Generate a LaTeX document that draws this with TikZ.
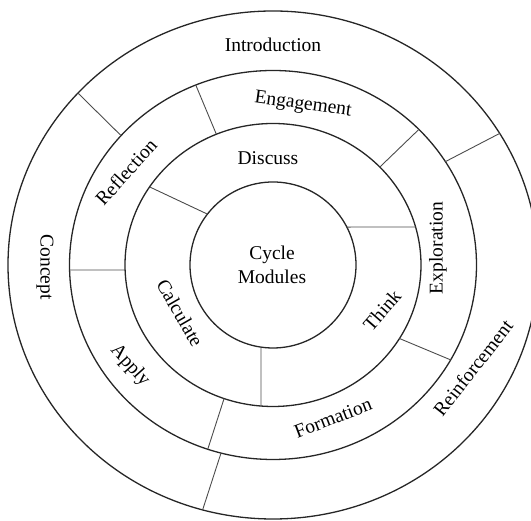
\documentclass[tikz,border=0pt]{standalone}
\usepackage{fontspec}
\setmainfont{Liberation Serif}
\usetikzlibrary{calc}
\begin{document}
\begin{tikzpicture}[x=1pt,y=1pt,
  ring/.style={draw=black!85,line width=1.3pt},
  divider/.style={draw=black!70,line width=0.9pt},
  lbl/.style={font=\fontsize{19.5}{24}\selectfont,inner sep=0pt,align=center}]
\useasboundingbox (0,0) rectangle (531,521);
\coordinate (C) at (273,256);
% rings
\draw[ring] (C) circle [radius=83pt];
\draw[ring] (C) ellipse [x radius=148pt, y radius=141.5pt];
\draw[ring] (C) ellipse [x radius=203.5pt, y radius=194.5pt];
\draw[ring] (C) ellipse [x radius=265pt, y radius=254pt];
% inner ring dividers
\draw[divider] ($(C)+(142.2:83pt)$) -- ($(C)+(146.5:148pt and 141.5pt)$);
\draw[divider] ($(C)+(27.2:83pt)$) -- ($(C)+(15.58:148pt and 141.5pt)$);
\draw[divider] ($(C)+(-98.3:83pt)$) -- ($(C)+(-94.65:148pt and 141.5pt)$);
% middle ring dividers
\draw[divider] ($(C)+(112.5:148pt and 141.5pt)$) -- ($(C)+(112.3:203.5pt and 194.5pt)$);
\draw[divider] ($(C)+(43.8:148pt and 141.5pt)$) -- ($(C)+(44.2:203.5pt and 194.5pt)$);
\draw[divider] ($(C)+(-31.3:148pt and 141.5pt)$) -- ($(C)+(-29.2:203.5pt and 194.5pt)$);
\draw[divider] ($(C)+(-109.3:148pt and 141.5pt)$) -- ($(C)+(-108.7:203.5pt and 194.5pt)$);
\draw[divider] ($(C)+(182.03:148pt and 141.5pt)$) -- ($(C)+(181.47:203.5pt and 194.5pt)$);
% outer ring dividers
\draw[divider] ($(C)+(138.3:203.5pt and 194.5pt)$) -- ($(C)+(137.4:265pt and 254pt)$);
\draw[divider] ($(C)+(32.1:203.5pt and 194.5pt)$) -- ($(C)+(31.2:265pt and 254pt)$);
\draw[divider] ($(C)+(-104.8:203.5pt and 194.5pt)$) -- ($(C)+(-105.4:265pt and 254pt)$);
% labels
\node[lbl] (center) at (272,256) {Cycle\\Modules};
\node[lbl] (intro) at (273,476) {Introduction};
\node[lbl,rotate=-8] (engage) at (303,416) {Engagement};
\node[lbl] (discuss) at (268,363) {Discuss};
\node[lbl,rotate=48] (reflect) at (126,349) {Reflection};
\node[lbl,rotate=90] (explore) at (438,273) {Exploration};
\node[lbl,rotate=-90] (concept) at (45,254) {Concept};
\node[lbl,rotate=-60] (calc) at (180,208) {Calculate};
\node[lbl,rotate=49] (think) at (382,211) {Think};
\node[lbl,rotate=-48] (apply) at (130,155) {Apply};
\node[lbl,rotate=21] (form) at (333,103) {Formation};
\node[lbl,rotate=52] (reinf) at (473,153) {Reinforcement};
\end{tikzpicture}
\end{document}
